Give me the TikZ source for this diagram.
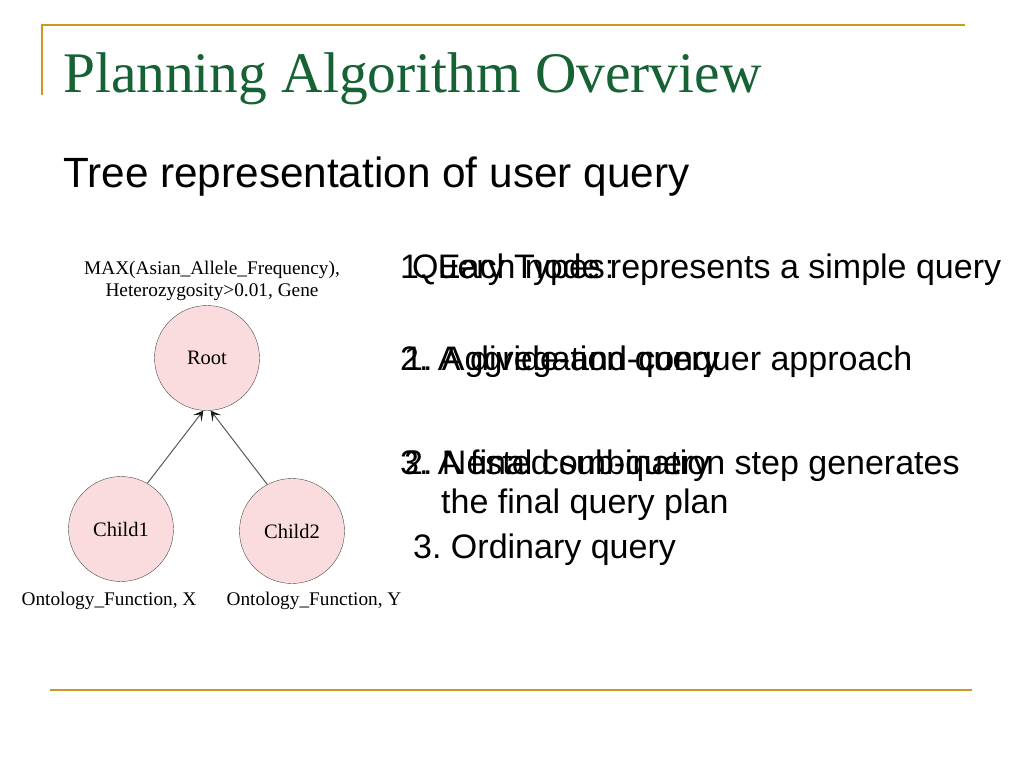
\documentclass[tikz,border=0pt]{standalone}
\usepackage{fontspec}
\setmainfont{Liberation Sans}
\newfontfamily\serifface{Liberation Serif}
\usetikzlibrary{positioning}
\usetikzlibrary{arrows.meta}
\definecolor{titlegreen}{RGB}{22,98,52}
\definecolor{rulegold}{RGB}{204,153,34}
\definecolor{nodepink}{RGB}{250,220,222}
\tikzstyle{treenode} = [draw=black!70, circle, fill=nodepink, minimum size=105pt, inner sep=0pt, font=\serifface\fontsize{20.5}{20.5}\selectfont]
\tikzstyle{treelabel} = [inner sep=0pt, align=center, font=\serifface\fontsize{19.3}{22}\selectfont]
\tikzstyle{bodytext} = [anchor=base west, inner sep=0pt, font=\fontsize{34}{40}\selectfont]
\tikzstyle{treeedge} = [-{Stealth[length=10pt,width=11pt,inset=5pt,black!90]}, black!65, line width=1pt]
\tikzstyle{goldrule} = [rulegold, line width=2pt]
\frenchspacing

\begin{document}
\begin{tikzpicture}[x=1pt,y=-1pt]
  \useasboundingbox[fill=white] (0,0) rectangle (1024,768);

  \draw[goldrule] (42,95) -- (42,25) -- (965,25);
  \draw[goldrule] (50,690) -- (972,690);

  \node[anchor=base west, inner sep=0pt, text=titlegreen, font=\serifface\fontsize{57.4}{58}\selectfont] (title) at (63,92) {Planning Algorithm Overview};
  \node[bodytext, font=\fontsize{42.3}{43}\selectfont] (sub) at (63,187) {Tree representation of user query};

  \node[treenode] (root) at (207,358) {Root};
  \node[treenode] (c1) at (121,529) {Child1};
  \node[treenode] (c2) at (292,531) {Child2};

  \node[treelabel, above=4pt of root, xshift=5pt] (rootlab) {MAX(Asian\_Allele\_Frequency),\\Heterozygosity>0.01, Gene};
  \node[treelabel, below=10pt of c1, xshift=-12pt] (c1lab) {Ontology\_Function, X};
  \node[treelabel, below=8pt of c2, xshift=22pt] (c2lab) {Ontology\_Function, Y};

  \draw[treeedge] (c1.60) -- (root.-94);
  \draw[treeedge] (c2.118) -- (root.-86);

  \node[bodytext] (a1) at (400,278) {1. Each node represents a simple query};
  \node[bodytext] (a2) at (400,370) {2. A divide-and-conquer approach};
  \node[bodytext] (a3) at (400,474) {3. A final combination step generates};
  \node[bodytext] (a4) at (441,513) {the final query plan};

  \node[bodytext] (q0) at (412,278) {Query Types:};
  \node[bodytext] (q1) at (404,370) {1. Aggregation query};
  \node[bodytext] (q2) at (404,474) {2. Nested sub-query};
  \node[bodytext] (q3) at (413,558) {3. Ordinary query};
\end{tikzpicture}
\end{document}
